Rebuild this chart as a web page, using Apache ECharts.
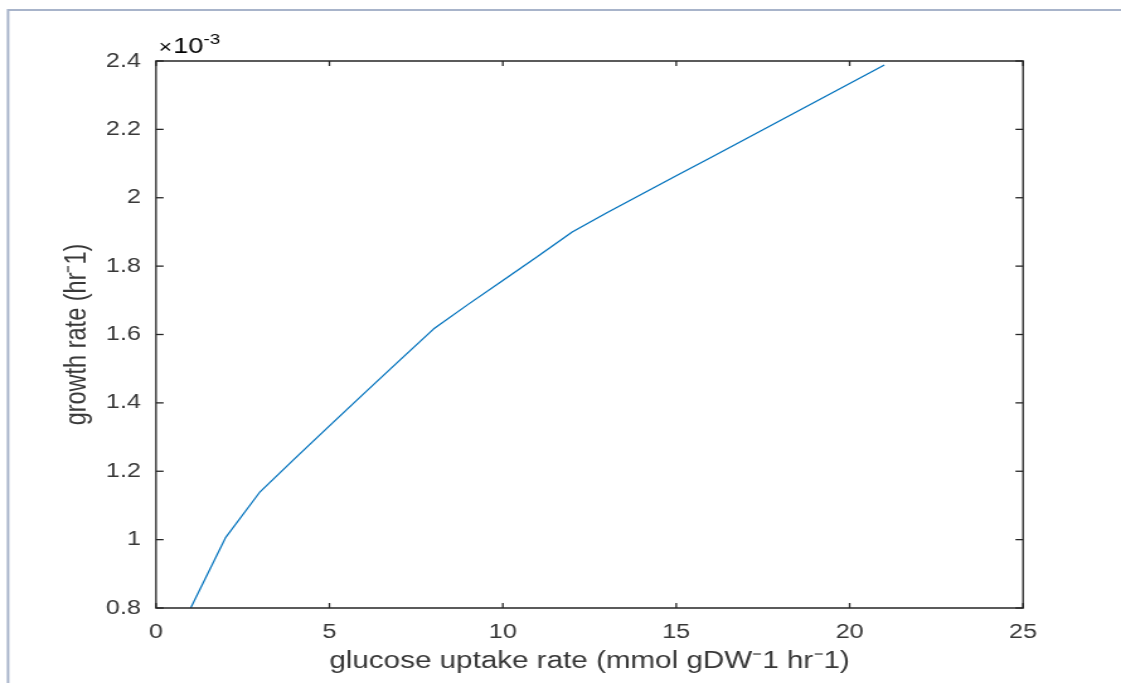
<!DOCTYPE html>
<html>
<head>
<meta charset="utf-8">
<title>growth rate vs glucose uptake rate</title>
<script src="https://cdn.jsdelivr.net/npm/echarts@6/dist/echarts.min.js"></script>
<style>
  html, body { margin: 0; padding: 0; background: #fff; }
  #wrap { position: absolute; left: 0; top: 0; width: 1121px; height: 683px; overflow: hidden; background: #fff; }
  /* the figure is drawn narrower and widened horizontally, like a stretched export */
  #chart { width: 890px; height: 683px; transform: scaleX(1.2596); transform-origin: 0 0; }
</style>
</head>
<body>
<div id="wrap"><div id="chart"></div></div>
<script>
// glucose uptake rate (mmol gDW^-1 hr^-1)
const glucoseUptake = [1, 2, 3, 4, 5, 6, 7, 8, 9, 10, 11, 12, 13, 14, 15, 16, 17, 18, 19, 20, 21];
// growth rate (hr^-1), in units of 1e-3
const growthRate = [0.800, 1.005, 1.140, 1.237, 1.333, 1.428, 1.522, 1.616, 1.688, 1.758, 1.828, 1.900,
                    1.956, 2.010, 2.064, 2.118, 2.172, 2.226, 2.280, 2.334, 2.388];

// tick positions on both axes (also drawn on the opposite sides of the box)
const xTickValues = [0, 5, 10, 15, 20, 25];
const yTickValues = [0.8, 1.0, 1.2, 1.4, 1.6, 1.8, 2.0, 2.2, 2.4];
const yExponent = '-3';

const FONT = '"Liberation Sans", Arial, Helvetica, sans-serif';
const AXIS_COLOR = '#262626';
const TEXT_COLOR = '#383838';
const LINE_COLOR = '#0072BD';

const xMin = xTickValues[0], xMax = xTickValues[xTickValues.length - 1];
const yMin = yTickValues[0], yMax = yTickValues[yTickValues.length - 1];

const chart = echarts.init(document.getElementById('chart'), null, { renderer: 'canvas' });

const points = glucoseUptake.map((x, i) => [x, growthRate[i]]);

const xAxis = {
  type: 'value', position: 'bottom',
  min: xMin, max: xMax, interval: 5,
  axisLine: { show: false },
  axisTick: { show: false },
  axisLabel: { margin: 14, fontFamily: FONT, fontSize: 20, color: TEXT_COLOR },
  splitLine: { show: false },
  name: 'glucose uptake rate (mmol gDW\u207B1 hr\u207B1)',
  nameLocation: 'middle',
  nameGap: 42,
  nameTextStyle: { fontFamily: FONT, fontSize: 23.5, color: TEXT_COLOR }
};

const yAxis = {
  type: 'value', position: 'left',
  min: yMin, max: yMax, interval: 0.2,
  axisLine: { show: false },
  axisTick: { show: false },
  axisLabel: {
    margin: 12, fontFamily: FONT, fontSize: 20, color: TEXT_COLOR,
    formatter: v => String(Math.round(v * 10) / 10)
  },
  splitLine: { show: false },
  name: 'growth rate (hr\u207B1)',
  nameLocation: 'middle',
  nameGap: 45,
  nameTextStyle: { fontFamily: FONT, fontSize: 23.5, color: TEXT_COLOR }
};

const tickStyle = { stroke: AXIS_COLOR, lineWidth: 1.3 };
const X_TICK_LEN = 5, Y_TICK_LEN = 6;

// inward tick marks on all four sides of the box
function renderXTick(params, api) {
  const v = api.value(0);
  const b = api.coord([v, yMin]);
  const t = api.coord([v, yMax]);
  return {
    type: 'group',
    children: [
      { type: 'line', shape: { x1: b[0], y1: b[1], x2: b[0], y2: b[1] - X_TICK_LEN }, style: tickStyle },
      { type: 'line', shape: { x1: t[0], y1: t[1], x2: t[0], y2: t[1] + X_TICK_LEN }, style: tickStyle }
    ]
  };
}
function renderYTick(params, api) {
  const v = api.value(1);
  const l = api.coord([xMin, v]);
  const r = api.coord([xMax, v]);
  return {
    type: 'group',
    children: [
      { type: 'line', shape: { x1: l[0], y1: l[1], x2: l[0] + Y_TICK_LEN, y2: l[1] }, style: tickStyle },
      { type: 'line', shape: { x1: r[0], y1: r[1], x2: r[0] - Y_TICK_LEN, y2: r[1] }, style: tickStyle }
    ]
  };
}

chart.setOption({
  animation: false,
  backgroundColor: '#ffffff',
  grid: {
    left: 123.85, right: 77.8, top: 61, bottom: 75, containLabel: false,
    show: true, borderColor: AXIS_COLOR, borderWidth: 1.3, backgroundColor: 'transparent', z: 5
  },
  xAxis: xAxis,
  yAxis: yAxis,
  series: [
    {
      type: 'line',
      data: points,
      showSymbol: false,
      lineStyle: { color: LINE_COLOR, width: 1.2 },
      itemStyle: { color: LINE_COLOR },
      z: 3
    },
    {
      type: 'custom', silent: true, clip: false, z: 4,
      data: xTickValues.map(v => [v, yMin]),
      renderItem: renderXTick
    },
    {
      type: 'custom', silent: true, clip: false, z: 4,
      data: yTickValues.map(v => [xMin, v]),
      renderItem: renderYTick
    }
  ],
  graphic: [
    {
      // outer frame edge along top and left
      type: 'polyline', silent: true,
      shape: { points: [[6.4, 683], [6.4, 10], [890, 10]] },
      style: { stroke: '#a8b4ca', lineWidth: 2, fill: null }
    },
    {
      // axis exponent
      type: 'text', left: 126, top: 32, silent: true,
      style: {
        text: '{m|\u00D7}{b|10}{s|' + yExponent + '}',
        rich: {
          m: { fontFamily: FONT, fontSize: 18, color: TEXT_COLOR, verticalAlign: 'bottom', lineHeight: 26, padding: [0, 1, 1, 0] },
          b: { fontFamily: FONT, fontSize: 21.5, color: TEXT_COLOR, verticalAlign: 'bottom', lineHeight: 26 },
          s: { fontFamily: FONT, fontSize: 15, color: TEXT_COLOR, verticalAlign: 'top', lineHeight: 26, padding: [0, 0, 12, 0] }
        }
      }
    }
  ]
});
</script>
</body>
</html>
